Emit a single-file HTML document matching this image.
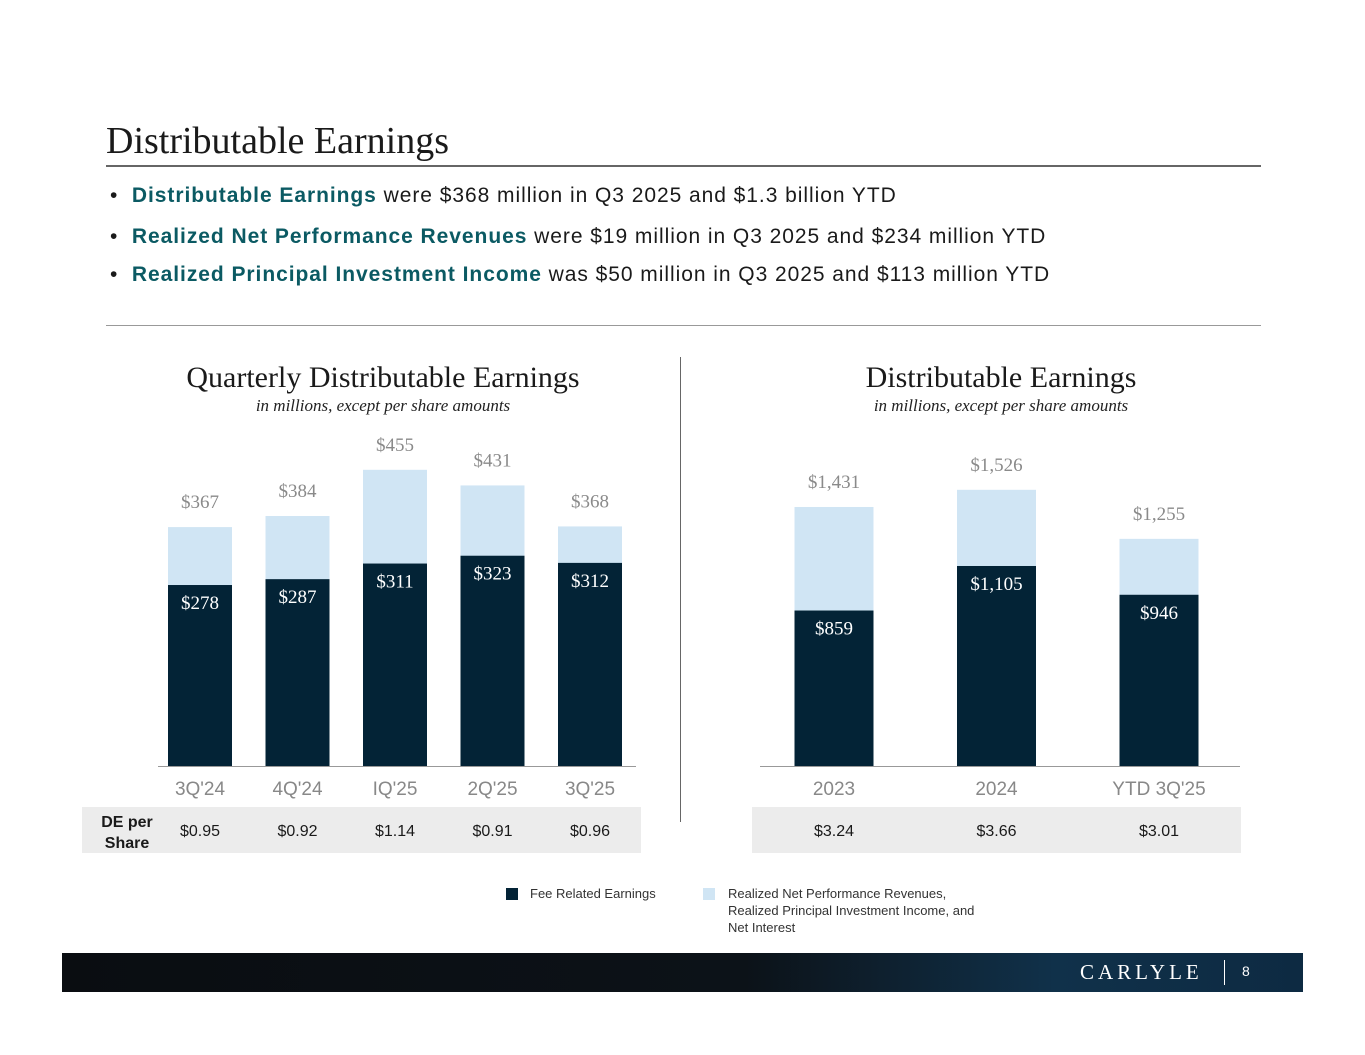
<!DOCTYPE html>
<html><head><meta charset="utf-8"><style>
body{margin:0;width:1365px;height:1055px;background:#fff;position:relative;overflow:hidden;font-family:"Liberation Sans",sans-serif}
.a{position:absolute}
.serif{font-family:"Liberation Serif",serif}
.bl{font-size:21px;letter-spacing:0.95px;color:#1a1a1a;left:110px;white-space:nowrap}
.bl b{color:#0b5a63}
</style></head><body>
<div class="a serif" style="left:106px;top:119px;font-size:38px;color:#1a1a1a">Distributable Earnings</div>
<div class="a" style="left:106px;top:165px;width:1155px;height:2px;background:#666"></div>
<div class="a bl" style="top:184px">•&nbsp;&nbsp;<b>Distributable Earnings</b> were $368 million in Q3 2025 and $1.3 billion YTD</div>
<div class="a bl" style="top:225px">•&nbsp;&nbsp;<b>Realized Net Performance Revenues</b> were $19 million in Q3 2025 and $234 million YTD</div>
<div class="a bl" style="top:263px">•&nbsp;&nbsp;<b>Realized Principal Investment Income</b> was $50 million in Q3 2025 and $113 million YTD</div>
<div class="a" style="left:106px;top:325px;width:1155px;height:1px;background:#999"></div>
<div class="a" style="left:680px;top:357px;width:1px;height:465px;background:#666"></div>
<div class="a" style="left:82px;top:807px;width:559px;height:46px;background:#ececec"></div>
<div class="a" style="left:752px;top:807px;width:489px;height:46px;background:#ececec"></div>
<svg class="a" style="left:0;top:0" width="1365" height="1055" id="chart"></svg>
<div class="a" style="left:62px;top:953px;width:1241px;height:39px;background:linear-gradient(90deg,#0a0d11 0%,#0c1218 55%,#10314a 80%,#0d2a42 100%)"></div>
<div class="a serif" style="left:1080px;top:960px;color:#fff;font-size:21px;letter-spacing:4px">CARLYLE</div>
<div class="a" style="left:1224px;top:960px;width:1px;height:25px;background:#fff"></div>
<div class="a" style="left:1242px;top:963px;color:#fff;font-size:14px">8</div>
<script>
const qCats=["3Q'24","4Q'24","IQ'25","2Q'25","3Q'25"];
const qFre=[278,287,311,323,312];
const qTot=[367,384,455,431,368];
const qEps=["$0.95","$0.92","$1.14","$0.91","$0.96"];
const aCats=["2023","2024","YTD 3Q'25"];
const aFre=[859,1105,946];
const aTot=[1431,1526,1255];
const aEps=["$3.24","$3.66","$3.01"];
const svg=document.getElementById('chart');const NS='http://www.w3.org/2000/svg';
function el(t,a,txt){const e=document.createElementNS(NS,t);for(const k in a)e.setAttribute(k,a[k]);if(txt!==undefined)e.textContent=txt;svg.appendChild(e);return e;}
function fmt(v){return '$'+v.toLocaleString('en-US');}
function chart(o){
  const base=766, y=v=>base-v*o.k;
  let t=el('text',{x:o.cx,y:387,'text-anchor':'middle','font-size':30,fill:'#1a1a1a','font-family':'Liberation Serif,serif'},o.title);
  
  t=el('text',{x:o.cx,y:411,'text-anchor':'middle','font-size':17,'font-style':'italic',fill:'#222','font-family':'Liberation Serif,serif'},'in millions, except per share amounts');
  
  o.cats.forEach((c,i)=>{
    const x=o.x0+i*o.step;
    let r=el('rect',{x:x-o.w/2,y:y(o.tot[i]),width:o.w,height:o.tot[i]*o.k,fill:'#d0e5f4'});
    
    r=el('rect',{x:x-o.w/2,y:y(o.fre[i]),width:o.w,height:o.fre[i]*o.k,fill:'#032336'});
    
    let l=el('text',{x:x,y:y(o.tot[i])-19,'text-anchor':'middle','font-size':19,fill:'#8a8a8a','font-family':'Liberation Serif,serif'},fmt(o.tot[i]));
    
    l=el('text',{x:x,y:y(o.fre[i])+24,'text-anchor':'middle','font-size':19,fill:'#fff','font-family':'Liberation Serif,serif'},fmt(o.fre[i]));
    
    l=el('text',{x:x,y:795,'text-anchor':'middle','font-size':19,fill:'#888'},c);
    
    l=el('text',{x:x,y:836,'text-anchor':'middle','font-size':16,fill:'#1a1a1a'},o.eps[i]);
    
  });
  const b=el('line',{x1:o.lx1,x2:o.lx2,y1:base+0.5,y2:base+0.5,stroke:'#999','stroke-width':1});
  
}
chart({name:'quarterly',title:'Quarterly Distributable Earnings',cx:383,cats:qCats,fre:qFre,tot:qTot,eps:qEps,k:0.651,x0:200,step:97.5,w:64,lx1:158,lx2:636});
chart({name:'annual',title:'Distributable Earnings',cx:1001,cats:aCats,fre:aFre,tot:aTot,eps:aEps,k:0.181,x0:834,step:162.5,w:79,lx1:760,lx2:1240});
let h=el('text',{x:127,y:827,'text-anchor':'middle','font-size':16,'font-weight':'bold',fill:'#1a1a1a'},'DE per');

h=el('text',{x:127,y:848,'text-anchor':'middle','font-size':16,'font-weight':'bold',fill:'#1a1a1a'},'Share');

let s=el('rect',{x:506,y:888,width:12,height:12,fill:'#032336'});

s=el('text',{x:530,y:898,'font-size':13,fill:'#333'},'Fee Related Earnings');

s=el('rect',{x:703,y:888,width:12,height:12,fill:'#d0e5f4'});

['Realized Net Performance Revenues,','Realized Principal Investment Income, and','Net Interest'].forEach((t,i)=>{
  const e=el('text',{x:728,y:898+i*17,'font-size':13,fill:'#333'},t);
  
  
});
</script>
</body></html>
